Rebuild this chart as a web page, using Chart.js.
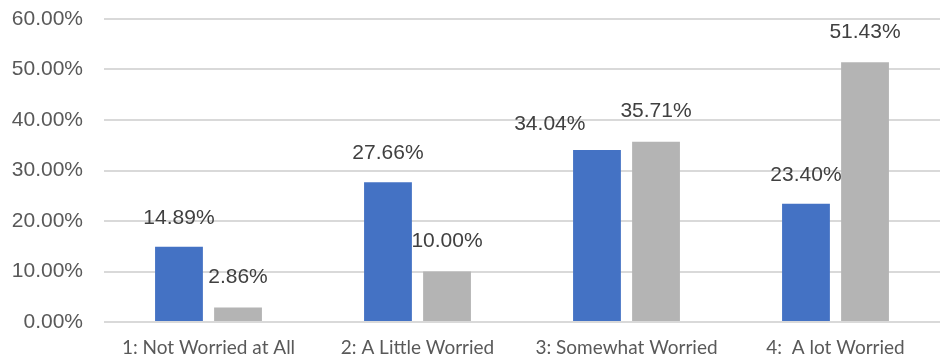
<!DOCTYPE html>
<html>
<head>
<meta charset="utf-8">
<script src="https://cdn.jsdelivr.net/npm/chart.js@4"></script>
<style>
  html, body { margin: 0; padding: 0; background: #fff; }
  #wrap { width: 945px; height: 359px; }
</style>
</head>
<body>
<div id="wrap"><canvas id="barChart"></canvas></div>
<script>
// data
var categories = ['1: Not Worried at All', '2: A Little Worried', '3: Somewhat Worried', '4:  A lot Worried'];
var seriesBlue = [14.89, 27.66, 34.04, 23.40];
var seriesGray = [2.86, 10.00, 35.71, 51.43];
var yTicks = [0, 10, 20, 30, 40, 50, 60];

// value labels above each bar; pushes a label left when it runs into its neighbour
var valueLabels = {
	id: 'valueLabels',
	afterDatasetsDraw: function(chart) {
		var ctx = chart.ctx;
		ctx.save();
		ctx.font = '21px "Liberation Sans", Arial, sans-serif';
		ctx.fillStyle = '#404040';
		ctx.textAlign = 'center';
		ctx.textBaseline = 'middle';
		var m0 = chart.getDatasetMeta(0).data;
		var m1 = chart.getDatasetMeta(1).data;
		for (var i = 0; i < categories.length; i++) {
			var t0 = seriesBlue[i].toFixed(2) + '%';
			var t1 = seriesGray[i].toFixed(2) + '%';
			var w0 = ctx.measureText(t0).width;
			var w1 = ctx.measureText(t1).width;
			var x0 = m0[i].x, y0 = m0[i].y - 29;
			var x1 = m1[i].x, y1 = m1[i].y - 30;
			if (Math.abs(y0 - y1) < 22 && x0 + w0 / 2 > x1 - w1 / 2) {
				x0 = x1 - w1 / 2 - 35 - w0 / 2;
				y0 += 3;
			}
			ctx.fillText(t0, x0, y0);
			ctx.fillText(t1, x1, y1);
		}
		ctx.restore();
	}
};

var ctx = document.getElementById('barChart').getContext('2d');
var myBarChart = new Chart(ctx, {
	type: 'bar',
	data: {
		labels: categories,
		datasets: [
			{ data: seriesBlue, backgroundColor: '#4472C4', categoryPercentage: 0.565, barPercentage: 0.81 },
			{ data: seriesGray, backgroundColor: '#B4B4B4', categoryPercentage: 0.565, barPercentage: 0.81 }
		]
	},
	options: {
		responsive: true,
		maintainAspectRatio: false,
		animation: false,
		layout: { padding: { top: 19, right: 5, left: 0, bottom: 0 } },
		plugins: { legend: { display: false }, tooltip: { enabled: false } },
		scales: {
			x: {
				grid: { display: false },
				border: { display: false },
				ticks: {
					color: '#595959',
					font: { family: 'Lato, "Open Sans", sans-serif', size: 19 },
					padding: 6,
					maxRotation: 0,
					autoSkip: false
				},
				afterFit: function(s) { s.height = 37; }
			},
			y: {
				min: 0,
				max: 60,
				afterBuildTicks: function(s) { s.ticks = yTicks.map(function(v) { return { value: v }; }); },
				grid: { color: '#D9D9D9', lineWidth: 2, drawTicks: false },
				border: { display: false },
				ticks: {
					color: '#595959',
					font: { family: '"Liberation Sans", Arial, sans-serif', size: 21 },
					padding: 21,
					callback: function(v) { return v.toFixed(2) + '%'; }
				},
				afterFit: function(s) { s.width = 104; s.paddingTop = 0; s.paddingBottom = 0; }
			}
		}
	},
	plugins: [valueLabels]
});
</script>
</body>
</html>
